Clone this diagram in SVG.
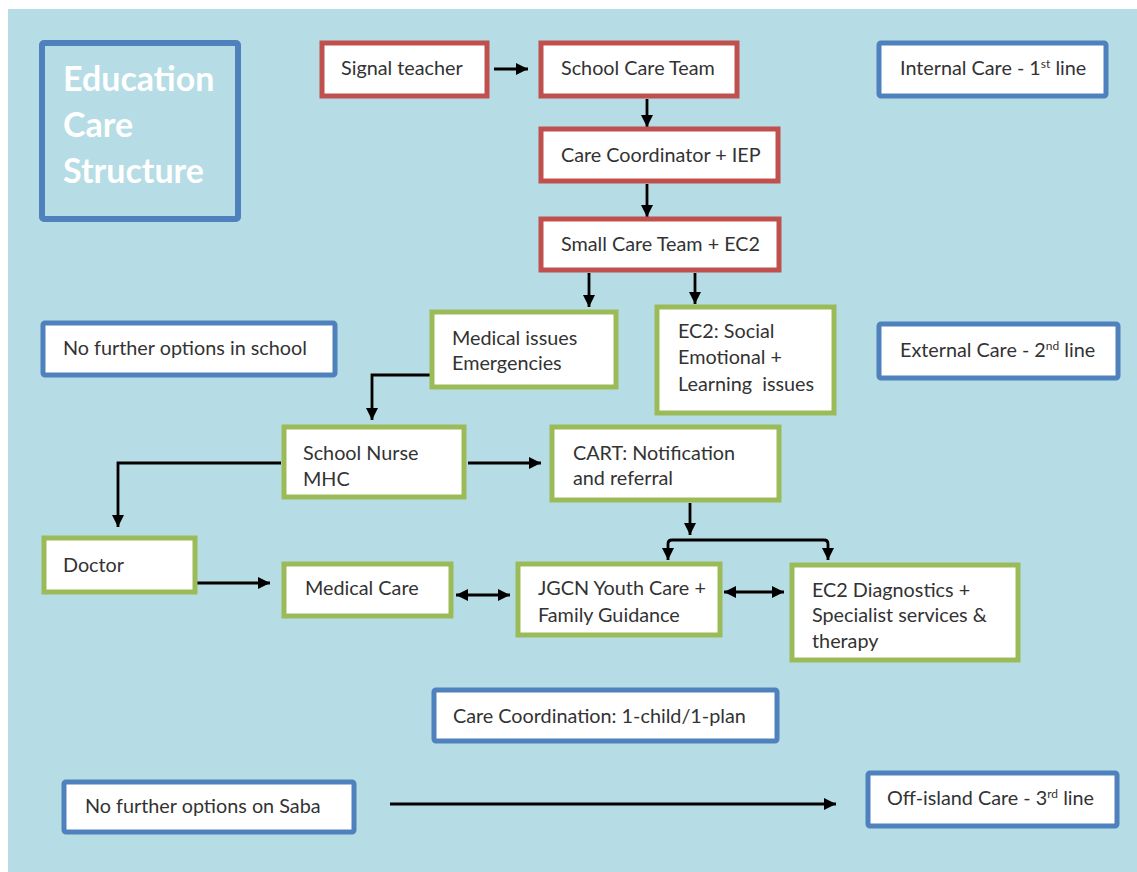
<svg xmlns="http://www.w3.org/2000/svg" width="1137" height="872" viewBox="0 0 1137 872">
<style>
.bg{fill:#b6dce5}
.r{fill:#fff;stroke:#c0504d;stroke-width:5}
.g{fill:#fff;stroke:#9bbb59;stroke-width:5}
.b{fill:#fff;stroke:#4f81bd;stroke-width:5}
.t{font-family:Lato,"Liberation Sans",sans-serif;font-size:19.8px;fill:#333;white-space:pre}
.title{font-family:Lato,"Liberation Sans",sans-serif;font-size:34px;fill:#fff;font-weight:bold}
.c{fill:none;stroke:#000;stroke-width:2.8}
.sup{font-size:12px}
</style>
<defs>
<marker id="ah" markerUnits="userSpaceOnUse" markerWidth="13" markerHeight="13" refX="12" refY="6.5" orient="auto-start-reverse" viewBox="0 0 13 13">
<path d="M0,0.5 L12,6.5 L0,12.5 z" fill="#000"/>
</marker>
</defs>
<rect x="0" y="0" width="1137" height="872" fill="#fff"/>
<rect class="bg" x="8" y="9" width="1129" height="863"/>

<g id="title">
<rect x="42" y="43" width="196" height="176" rx="2" fill="none" stroke="#4f81bd" stroke-width="6"/>
<text class="title" x="63" y="91">Education</text>
<text class="title" x="63" y="137">Care</text>
<text class="title" x="63" y="183">Structure</text>
</g>

<g id="connectors">
<path class="c" d="M494,69 H528" marker-end="url(#ah)"/>
<path class="c" d="M647,99 V127" marker-end="url(#ah)"/>
<path class="c" d="M647,184 V217" marker-end="url(#ah)"/>
<path class="c" d="M589,273 V307" marker-end="url(#ah)"/>
<path class="c" d="M695,273 V304" marker-end="url(#ah)"/>
<path class="c" d="M431,375 H372 V420" marker-end="url(#ah)"/>
<path class="c" d="M468,463 H541" marker-end="url(#ah)"/>
<path class="c" d="M281,463 H118 V527" marker-end="url(#ah)"/>
<path class="c" d="M197,583 H270" marker-end="url(#ah)"/>
<path class="c" d="M456,595 H510" marker-start="url(#ah)" marker-end="url(#ah)"/>
<path class="c" d="M724,592 H784" marker-start="url(#ah)" marker-end="url(#ah)"/>
<path class="c" d="M690,503 V535" marker-end="url(#ah)"/>
<path class="c" d="M668,560 V544 Q668,540 672,540 H824 Q828,540 828,544 V560" marker-start="url(#ah)" marker-end="url(#ah)"/>
<path class="c" d="M390,804 H836" marker-end="url(#ah)"/>
</g>

<g id="signal-teacher">
<rect class="r" x="322" y="43" width="165" height="53"/>
<text class="t" x="341" y="75">Signal teacher</text>
</g>
<g id="school-care-team">
<rect class="r" x="541" y="43" width="196" height="53"/>
<text class="t" x="561" y="75">School Care Team</text>
</g>
<g id="care-coordinator">
<rect class="r" x="541" y="129" width="237" height="52"/>
<text class="t" x="561" y="162">Care Coordinator + IEP</text>
</g>
<g id="small-care-team">
<rect class="r" x="541" y="219" width="238" height="51"/>
<text class="t" x="561" y="251">Small Care Team + EC2</text>
</g>

<g id="internal-care">
<rect class="b" x="879" y="43" width="227" height="53" rx="2"/>
<text class="t" x="900" y="75">Internal Care - 1<tspan class="sup" dy="-7">st</tspan><tspan dy="7"> line</tspan></text>
</g>
<g id="no-further-school">
<rect class="b" x="43" y="323" width="292" height="52" rx="2"/>
<text class="t" x="63" y="355">No further options in school</text>
</g>
<g id="external-care">
<rect class="b" x="879" y="324" width="239" height="54" rx="2"/>
<text class="t" x="900" y="357">External Care - 2<tspan class="sup" dy="-7">nd</tspan><tspan dy="7"> line</tspan></text>
</g>

<g id="medical-issues">
<rect class="g" x="432" y="312" width="184" height="75"/>
<text class="t" x="452" y="345">Medical issues</text>
<text class="t" x="452" y="370">Emergencies</text>
</g>
<g id="ec2-social">
<rect class="g" x="657" y="307" width="177" height="106"/>
<text class="t" x="678" y="338">EC2: Social</text>
<text class="t" x="678" y="364">Emotional +</text>
<text class="t" x="678" y="391" xml:space="preserve">Learning  issues</text>
</g>
<g id="school-nurse">
<rect class="g" x="284" y="427" width="180" height="70"/>
<text class="t" x="303" y="460">School Nurse</text>
<text class="t" x="303" y="486">MHC</text>
</g>
<g id="cart">
<rect class="g" x="552" y="427" width="227" height="73"/>
<text class="t" x="573" y="460">CART: Notification</text>
<text class="t" x="573" y="485">and referral</text>
</g>
<g id="doctor">
<rect class="g" x="44" y="538" width="151" height="54"/>
<text class="t" x="63" y="572">Doctor</text>
</g>
<g id="medical-care">
<rect class="g" x="284" y="564" width="167" height="52"/>
<text class="t" x="305" y="595">Medical Care</text>
</g>
<g id="jgcn">
<rect class="g" x="518" y="564" width="202" height="71"/>
<text class="t" x="538" y="595">JGCN Youth Care +</text>
<text class="t" x="538" y="622">Family Guidance</text>
</g>
<g id="ec2-diagnostics">
<rect class="g" x="792" y="565" width="226" height="95"/>
<text class="t" x="812" y="597">EC2 Diagnostics +</text>
<text class="t" x="812" y="622">Specialist services &amp;</text>
<text class="t" x="812" y="648">therapy</text>
</g>

<g id="care-coordination">
<rect class="b" x="434" y="690" width="343" height="51" rx="2"/>
<text class="t" x="453" y="723">Care Coordination: 1-child/1-plan</text>
</g>
<g id="no-further-saba">
<rect class="b" x="64" y="782" width="290" height="50" rx="2"/>
<text class="t" x="85" y="813">No further options on Saba</text>
</g>
<g id="off-island">
<rect class="b" x="868" y="773" width="249" height="53" rx="2"/>
<text class="t" x="887" y="805">Off-island Care - 3<tspan class="sup" dy="-7">rd</tspan><tspan dy="7"> line</tspan></text>
</g>
</svg>
